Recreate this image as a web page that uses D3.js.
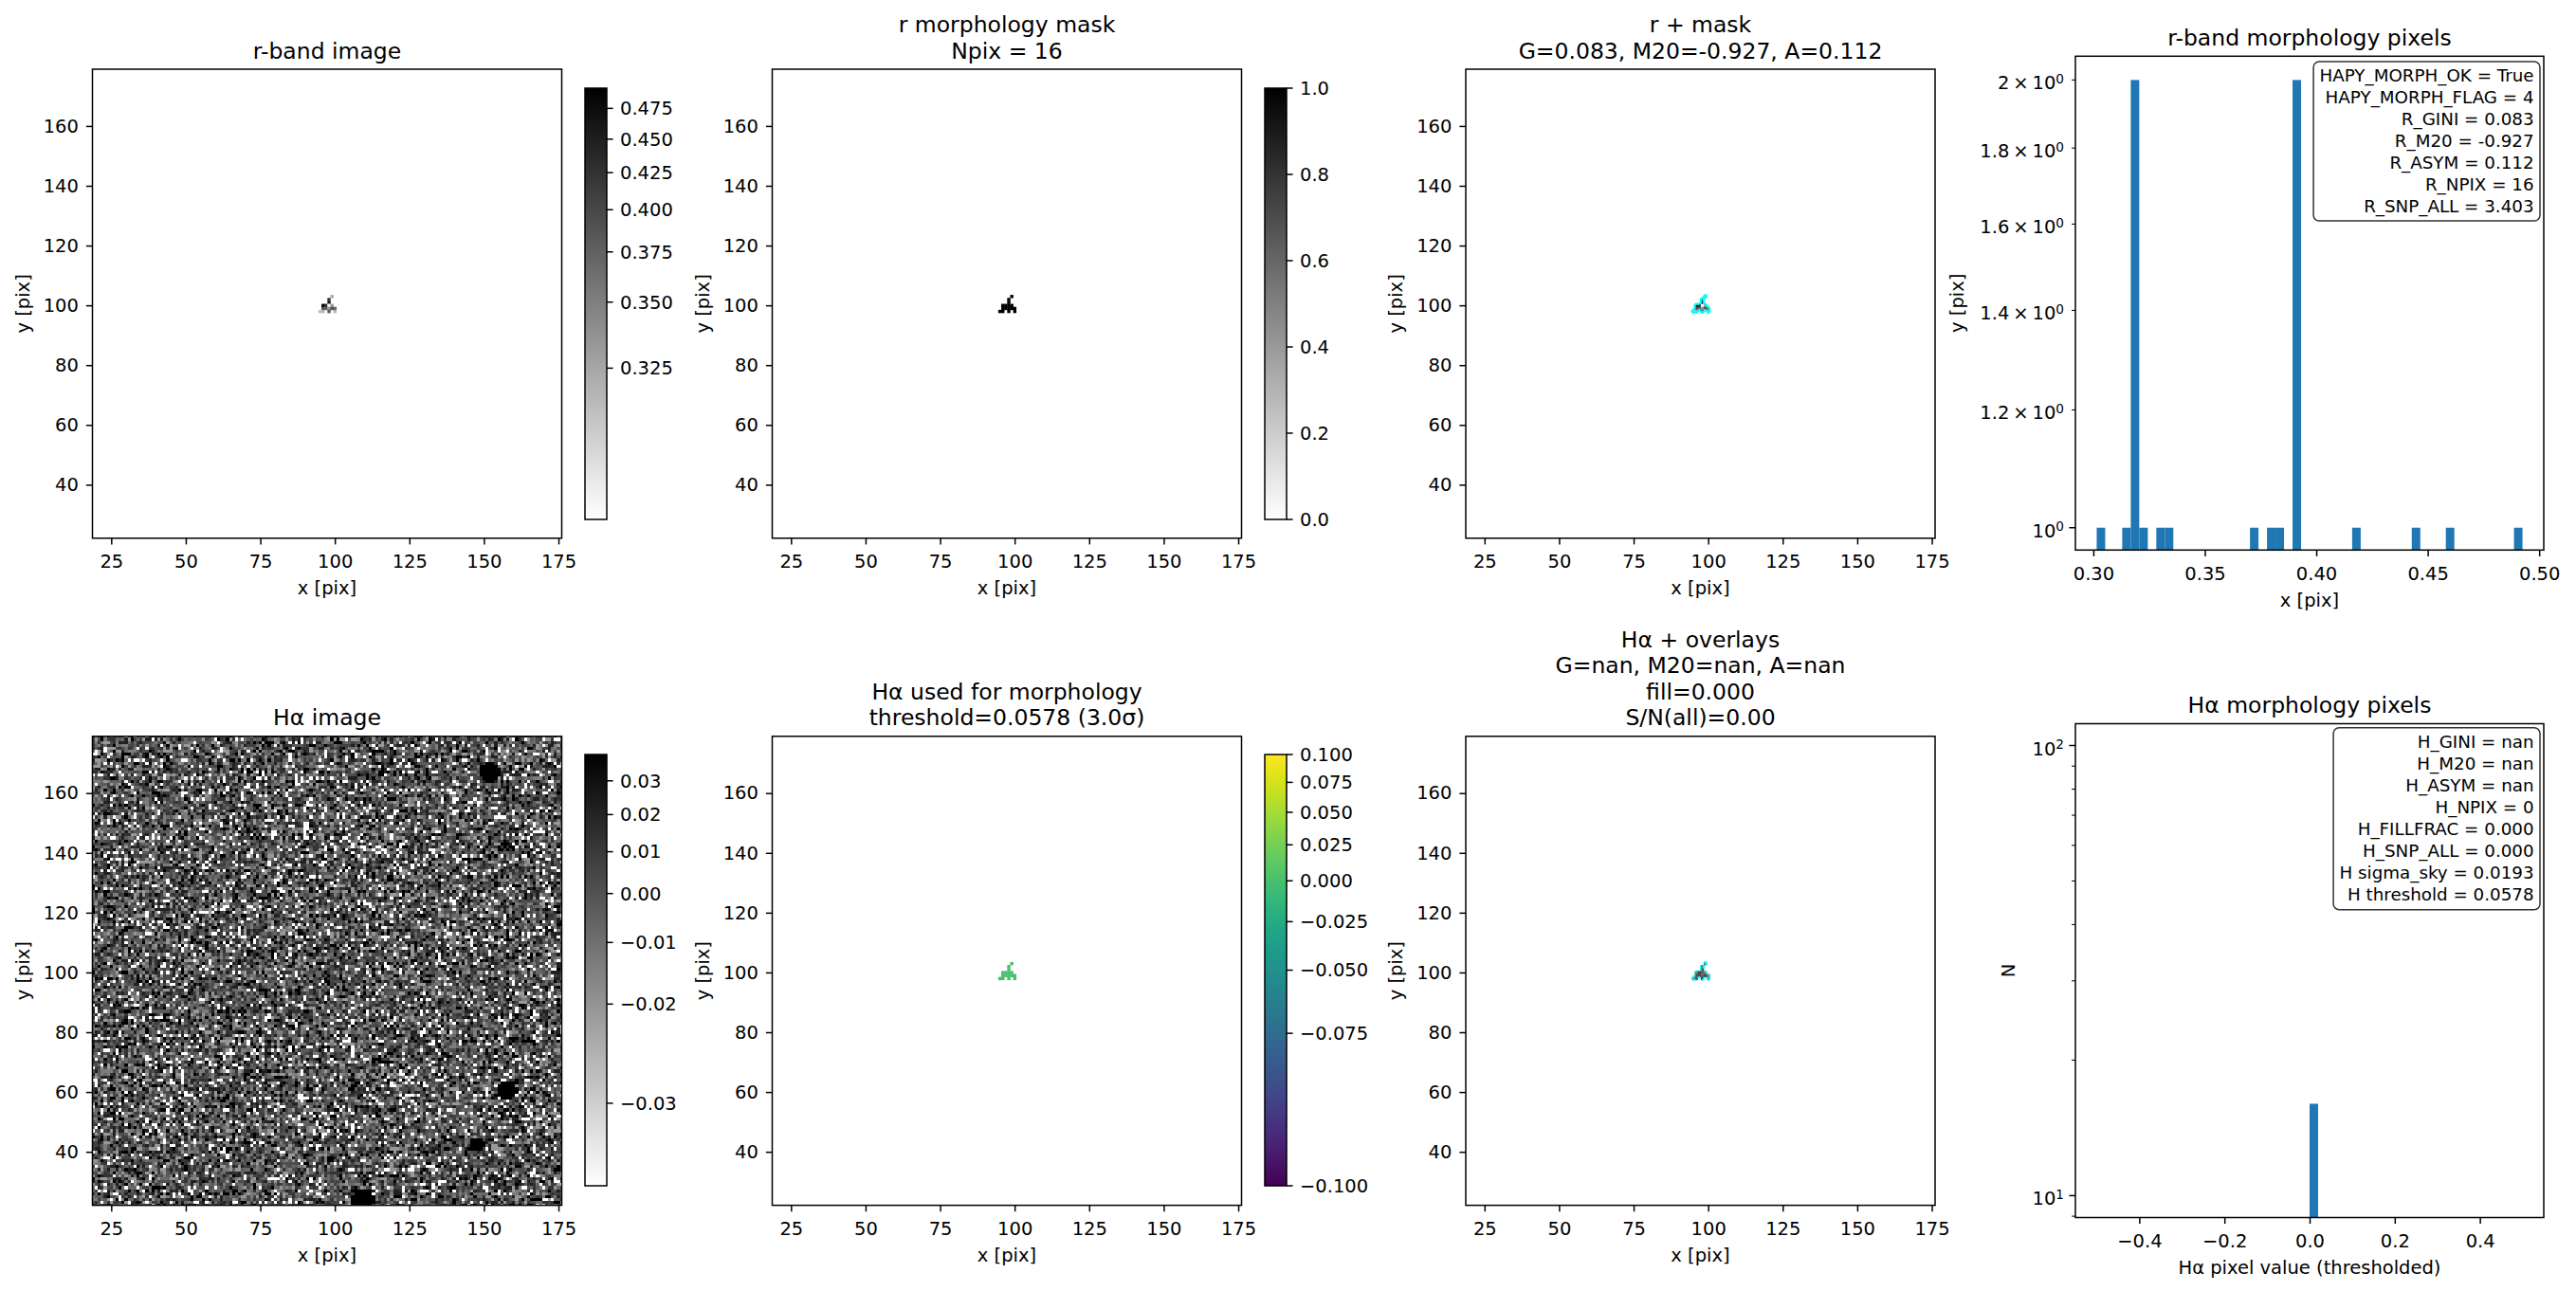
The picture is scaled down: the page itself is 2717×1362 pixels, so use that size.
<!DOCTYPE html>
<html>
<head>
<meta charset="utf-8">
<script src="https://cdn.jsdelivr.net/npm/d3@7/dist/d3.min.js"></script>
<style>
  body { margin: 0; background: #fff; }
  svg text { font-family: "DejaVu Sans", sans-serif; fill: #000; }
</style>
</head>
<body>
<svg id="fig" width="2717" height="1362"></svg>
<script>
// ---------- values ----------
var xExtent = [18.7, 176.1];
var yExtent = [22.1, 179.0];
var imgXTicks = [25, 50, 75, 100, 125, 150, 175];
var imgYTicks = [40, 60, 80, 100, 120, 140, 160];

// the 16 pixels of the r-band morphology mask
var pixX = [99, 98, 98, 96, 97, 98, 99, 96, 97, 98, 99, 100, 95, 96, 98, 100];
var pixY = [103, 102, 101, 100, 100, 100, 100, 99, 99, 99, 99, 99, 98, 98, 98, 98];
var rPix = [0.3220, 0.4180, 0.4600, 0.4925, 0.4430, 0.3015, 0.3300, 0.3910, 0.3800, 0.3340, 0.3915, 0.3720, 0.3140, 0.3180, 0.3840, 0.3185];
var haPix = [0.004, -0.006, 0.002, -0.010, 0.008, -0.004, -0.012, 0.000, 0.006, -0.008, 0.003, -0.014, -0.016, -0.002, 0.010, -0.011];
var haMorphPix = [0, 0, 0, 0, 0, 0, 0, 0, 0, 0, 0, 0, 0, 0, 0, 0];

var rRange = [0.3015, 0.4925];
var rCbTicks = [0.325, 0.350, 0.375, 0.400, 0.425, 0.450, 0.475];
var maskRange = [0, 1];
var maskCbTicks = [0, 0.2, 0.4, 0.6, 0.8, 1.0];
var haRange = [-0.0326, 0.0384];
var haCbTicks = [-0.03, -0.02, -0.01, 0.00, 0.01, 0.02, 0.03];
var morphRange = [-0.1, 0.1];
var morphCbTicks = [-0.100, -0.075, -0.050, -0.025, 0.000, 0.025, 0.050, 0.075, 0.100];

// Hα cut-out: sky noise as grey codes 0-9 (two typed sequences of coprime length,
// added digit by digit so the texture does not repeat), plus levels per code
var haLevels = [-0.0326, -0.021, -0.014, -0.008, -0.003, 0.002, 0.007, 0.013, 0.021, 0.0384];
var haNoiseRows = [
  "8274019935561730228841907635512098847136660391572944718209633358092716094771265428613500977349816025",
  "1596370842993016475820365179944682017538817249063305527194688043159726601385247719950628341477290586",
  "4408153926770194835263318720549916640728357100926381455847209631173085924469207135580649327186644019",
  "9921607453381850726944173062859907251148362905518736024497628119305847760233917548802614590378815263",
  "0656239184475208361997740158622839501774068439125590667381204953178660429855103276941218857032649907",
  "3187749520066415839273098562140781393658827045116290834557719623480091487356225097148833606952174480",
  "7542018867339960274185573901246688150739924416078523399704861250783142669935721048007586194236617391",
  "2039685514072847163390528117649955302468810279341667095385122487019764330156899427405813626950072738",
  "6617408293958235016748830964127702595184432669017853310495768826043197555820374916028891473360154092",
  "9085173629144076952833812507769324086519972043468817590254336601829747195580236641913079855402286317",
  "1472980355027619844316655023879101478362549230789466154820037983624712595086643109287751394068226054",
  "5361027487793345018962207148535609812473664951203487719056632815409988274613525730968012247796348801",
  "0829546117836254901377409826514889303117652940824578630025419773851648209966014357288392670515429736",
  "4790318862052973464180955362071841286395007736214958819043265770283914456628170593391048625583709142",
  "8153672209416088357291164304592278015639927401683356142809957236049117738450662193834570821966475038",
  "3026497751889310462578340117685296630482751960239184457013328896521043769925418607316773092548811659",
  "6948130074255721899036647823106645918307392254186700934882511376058249183396720544861029937167052283",
  "2715849366904286130785529104433718620597448032916673581204976055382417860192533948761108254693170427"
];
var haCols = 158, haRows = 158;
var haFirstX = 19, haFirstY = 179;
// compact sources and a low streak seen in the Hα cut-out
var srcX = [152.0, 157.7, 147.8, 109.5];
var srcY = [167.0, 60.6, 42.6, 24.0];
var srcR = [3.6, 3.4, 2.4, 4.0];
var holeX = [90, 90, 90, 90, 90, 90, 91, 91];
var holeY = [145, 146, 147, 148, 149, 150, 148, 149];

var nBins = 50;
var rHistXTicks = [0.30, 0.35, 0.40, 0.45, 0.50];
var rHistYTicks = [1, 1.2, 1.4, 1.6, 1.8, 2];
var rHistYRange = [0.966, 2.075];
var haHistXTicks = [-0.4, -0.2, 0.0, 0.2, 0.4];
var haHistYMajor = [10, 100];
var haHistYMinor = [9, 20, 30, 40, 50, 60, 70, 80, 90];
var haHistYRange = [8.94, 111.8];

var rBoxLines = ["HAPY_MORPH_OK = True", "HAPY_MORPH_FLAG = 4", "R_GINI = 0.083", "R_M20 = -0.927",
  "R_ASYM = 0.112", "R_NPIX = 16", "R_SNP_ALL = 3.403"];
var hBoxLines = ["H_GINI = nan", "H_M20 = nan", "H_ASYM = nan", "H_NPIX = 0", "H_FILLFRAC = 0.000",
  "H_SNP_ALL = 0.000", "H sigma_sky = 0.0193", "H threshold = 0.0578"];

// ---------- layout ----------
var TICK = 19.5, TITLE = 23.5, BOX = 18.3, FONT = "DejaVu Sans";
var colX = [97.5, 814.5, 1546];
var rowY = [73, 776.8];
var imgW = 495, imgH = 494.8;
var cbX = [617, 1334], cbW = 23, cbTop = [93, 796], cbH = 455;
var histX = 2189, histW = 494, histTop = [59.3, 763.5], histH = 521;

var svg = d3.select("#fig");
var defs = svg.append("defs");
var grayR = d3.interpolateRgb("#ffffff", "#000000");

function styleAxis(sel) {
  sel.attr("font-size", TICK).attr("font-family", FONT);
  sel.select(".domain").remove();
  sel.selectAll(".tick line").attr("stroke", "#000").attr("stroke-width", 1.5);
  sel.selectAll(".tick text").attr("fill", "#000");
}

function title(cx, top, lines) {
  var n = lines.length;
  lines.forEach(function(s, i) {
    svg.append("text").attr("x", cx).attr("y", top - 11.5 - (n - 1 - i) * 27.6)
      .attr("text-anchor", "middle").attr("font-size", TITLE).text(s);
  });
}

function imagePanel(col, row, lines) {
  var x0 = colX[col], y0 = rowY[row];
  var p = { x0: x0, y0: y0, w: imgW, h: imgH };
  p.xs = d3.scaleLinear().domain(xExtent).range([x0, x0 + imgW]);
  p.ys = d3.scaleLinear().domain(yExtent).range([y0 + imgH, y0]);
  var id = "clip" + col + "_" + row;
  defs.append("clipPath").attr("id", id).append("rect")
    .attr("x", x0).attr("y", y0).attr("width", imgW).attr("height", imgH);
  p.plot = svg.append("g").attr("clip-path", "url(#" + id + ")");
  p.lines = lines;
  return p;
}

function finishImage(p) {
  svg.append("g").attr("transform", "translate(0," + (p.y0 + p.h) + ")")
    .call(d3.axisBottom(p.xs).tickValues(imgXTicks).tickFormat(d3.format("d")).tickSize(6.6).tickPadding(11))
    .call(styleAxis);
  svg.append("g").attr("transform", "translate(" + p.x0 + ",0)")
    .call(d3.axisLeft(p.ys).tickValues(imgYTicks).tickFormat(d3.format("d")).tickSize(6.6).tickPadding(8))
    .call(styleAxis);
  svg.append("rect").attr("x", p.x0).attr("y", p.y0).attr("width", p.w).attr("height", p.h)
    .attr("fill", "none").attr("stroke", "#000").attr("stroke-width", 1.5);
  svg.append("text").attr("x", p.x0 + p.w / 2).attr("y", p.y0 + p.h + 59.5)
    .attr("text-anchor", "middle").attr("font-size", TICK).text("x [pix]");
  svg.append("text").attr("transform", "translate(" + (p.x0 - 67) + "," + (p.y0 + p.h / 2) + ") rotate(-90)")
    .attr("text-anchor", "middle").attr("font-size", TICK).text("y [pix]");
  title(p.x0 + p.w / 2, p.y0, p.lines);
}

function drawPixels(p, vals, colorOf) {
  var pw = p.xs(1) - p.xs(0), ph = p.ys(0) - p.ys(1);
  p.plot.selectAll(null).data(vals).enter().append("rect")
    .attr("x", function(d, i) { return p.xs(pixX[i] - 0.5); })
    .attr("y", function(d, i) { return p.ys(pixY[i] + 0.5); })
    .attr("width", pw + 0.3).attr("height", ph + 0.3)
    .attr("fill", colorOf);
}

function colorbar(col, row, colorFn, range, ticks, fmt, sqrtStretch) {
  var x = cbX[col], y = cbTop[row];
  var gid = "grad" + col + "_" + row;
  var grad = defs.append("linearGradient").attr("id", gid)
    .attr("x1", 0).attr("y1", 1).attr("x2", 0).attr("y2", 0);
  d3.range(0, 1.0001, 0.05).forEach(function(t) {
    grad.append("stop").attr("offset", t).attr("stop-color", colorFn(t));
  });
  svg.append("rect").attr("x", x).attr("y", y).attr("width", cbW).attr("height", cbH)
    .attr("fill", "url(#" + gid + ")");
  var norm = d3.scaleLinear().domain(range).clamp(true);
  var pos = (sqrtStretch ? d3.scaleSqrt() : d3.scaleLinear()).domain([0, 1]).range([y + cbH, y]);
  var f = d3.format(fmt);
  ticks.forEach(function(v) {
    var ty = pos(norm(v));
    svg.append("line").attr("x1", x + cbW).attr("x2", x + cbW + 6.6).attr("y1", ty).attr("y2", ty)
      .attr("stroke", "#000").attr("stroke-width", 1.5);
    svg.append("text").attr("x", x + cbW + 14).attr("y", ty).attr("dy", "0.35em")
      .attr("font-size", TICK).text(f(v));
  });
  svg.append("rect").attr("x", x).attr("y", y).attr("width", cbW).attr("height", cbH)
    .attr("fill", "none").attr("stroke", "#000").attr("stroke-width", 1.5);
}

function stretchColor(range, sqrtStretch, cmap) {
  var norm = d3.scaleLinear().domain(range).clamp(true);
  return function(v) { var t = norm(v); return cmap(sqrtStretch ? Math.sqrt(t) : t); };
}

// mask contour (marching squares on a small grid around the source)
var g0x = 92, g0y = 106, gN = 12;
var maskGrid = new Array(gN * gN).fill(0);
pixX.forEach(function(x, i) { maskGrid[(g0y - pixY[i]) * gN + (x - g0x)] = 1; });
var maskContour = d3.contours().size([gN, gN]).thresholds([0.5])(maskGrid)[0];
function contourPath(p) {
  return d3.geoPath(d3.geoTransform({
    point: function(gx, gy) { this.stream.point(p.xs(g0x + gx - 0.5), p.ys(g0y - gy + 0.5)); }
  }))(maskContour);
}

var rColor = stretchColor(rRange, true, grayR);
var maskColor = stretchColor(maskRange, false, grayR);
var haColor = stretchColor(haRange, true, grayR);
var morphColor = stretchColor(morphRange, true, d3.interpolateViridis);

// ---------- row 1 ----------
var p11 = imagePanel(0, 0, ["r-band image"]);
drawPixels(p11, rPix, function(d) { return rColor(d); });
finishImage(p11);
colorbar(0, 0, grayR, rRange, rCbTicks, ".3f", true);

var p21 = imagePanel(1, 0, ["r morphology mask", "Npix = 16"]);
drawPixels(p21, rPix, function() { return maskColor(1); });
finishImage(p21);
colorbar(1, 0, grayR, maskRange, maskCbTicks, ".1f", false);

var p31 = imagePanel(2, 0, ["r + mask", "G=0.083, M20=-0.927, A=0.112"]);
drawPixels(p31, rPix, function(d) { return rColor(d); });
p31.plot.append("path").attr("d", contourPath(p31)).attr("fill", "none")
  .attr("stroke", "#00ffff").attr("stroke-width", 2.2).attr("stroke-linejoin", "round");
finishImage(p31);

// ---------- row 2 ----------
var p12 = imagePanel(0, 1, ["Hα image"]);
(function() {
  var seqA = haNoiseRows.slice(0, 9).join("");
  var seqB = haNoiseRows.slice(9).join("");
  var L = Math.min(seqA.length, seqB.length);
  seqA = seqA.slice(0, L);
  seqB = seqB.slice(0, L - 1);
  var canvas = document.createElement("canvas");
  canvas.width = haCols; canvas.height = haRows;
  var ctx = canvas.getContext("2d");
  var img = ctx.createImageData(haCols, haRows);
  for (var r = 0; r < haRows; r++) {
    for (var c = 0; c < haCols; c++) {
      var x = haFirstX + c, y = haFirstY - r;
      var k = r * haCols + c;
      var code = (+seqA[k % seqA.length] + +seqB[k % seqB.length]) % 10;
      for (var s = 0; s < srcX.length; s++) {
        if ((x - srcX[s]) * (x - srcX[s]) + (y - srcY[s]) * (y - srcY[s]) <= srcR[s] * srcR[s]) code = 9;
      }
      for (var h = 0; h < holeX.length; h++) {
        if (x === holeX[h] && y === holeY[h]) code = 0;
      }
      var col = d3.rgb(haColor(haLevels[code]));
      img.data[k * 4] = col.r; img.data[k * 4 + 1] = col.g; img.data[k * 4 + 2] = col.b; img.data[k * 4 + 3] = 255;
    }
  }
  ctx.putImageData(img, 0, 0);
  p12.plot.append("image")
    .attr("href", canvas.toDataURL())
    .attr("x", p12.xs(haFirstX - 0.5)).attr("y", p12.ys(haFirstY + 0.5))
    .attr("width", p12.xs(haFirstX - 0.5 + haCols) - p12.xs(haFirstX - 0.5))
    .attr("height", p12.ys(haFirstY + 0.5 - haRows) - p12.ys(haFirstY + 0.5))
    .attr("preserveAspectRatio", "none")
    .style("image-rendering", "pixelated");
})();
finishImage(p12);
colorbar(0, 1, grayR, haRange, haCbTicks, ".2f", true);

var p22 = imagePanel(1, 1, ["Hα used for morphology", "threshold=0.0578 (3.0σ)"]);
drawPixels(p22, haMorphPix, function(d) { return morphColor(d); });
finishImage(p22);
colorbar(1, 1, d3.interpolateViridis, morphRange, morphCbTicks, ".3f", true);

var p32 = imagePanel(2, 1, ["Hα + overlays", "G=nan, M20=nan, A=nan", "fill=0.000", "S/N(all)=0.00"]);
drawPixels(p32, haPix, function(d) { return haColor(d); });
p32.plot.append("path").attr("d", contourPath(p32)).attr("fill", "none")
  .attr("stroke", "#00ffff").attr("stroke-width", 1.8).attr("stroke-dasharray", "4,2.5");
finishImage(p32);

// ---------- histograms ----------
function histFrame(row) {
  var top = histTop[row];
  var id = "hclip" + row;
  defs.append("clipPath").attr("id", id).append("rect")
    .attr("x", histX).attr("y", top).attr("width", histW).attr("height", histH);
  return { top: top, bottom: top + histH, plot: svg.append("g").attr("clip-path", "url(#" + id + ")") };
}

function textBox(lines, top, firstDy) {
  var right = histX + histW - 10.4;
  var g = svg.append("g");
  var t = g.append("text").attr("font-size", BOX).attr("text-anchor", "end");
  lines.forEach(function(s, i) {
    t.append("tspan").attr("x", right).attr("y", top + firstDy + i * 23.05).text(s);
  });
  var bb = t.node().getBBox();
  var lastBase = top + firstDy + (lines.length - 1) * 23.05;
  g.insert("rect", "text").attr("x", bb.x - 6.4).attr("y", top)
    .attr("width", bb.width + 12.8).attr("height", lastBase + 9.2 - top)
    .attr("rx", 6).attr("ry", 6)
    .attr("fill", "#fff").attr("fill-opacity", 0.8)
    .attr("stroke", "#333").attr("stroke-width", 1.5);
}

function supLabel(x, y, mant, exp) {
  var t = svg.append("text").attr("x", x).attr("y", y).attr("text-anchor", "end").attr("font-size", TICK);
  t.append("tspan").text(mant === null ? "10" : mant + "\u2009×\u200910");
  t.append("tspan").attr("dy", "-0.48em").attr("font-size", TICK * 0.7).text(exp);
}

function hLine(x1, x2, y, w) {
  svg.append("line").attr("x1", x1).attr("x2", x2).attr("y1", y).attr("y2", y)
    .attr("stroke", "#000").attr("stroke-width", w);
}

// r-band morphology pixels
(function() {
  var f = histFrame(0);
  var ext = d3.extent(rPix);
  var m = 0.05 * (ext[1] - ext[0]);
  var xs = d3.scaleLinear().domain([ext[0] - m, ext[1] + m]).range([histX, histX + histW]);
  var ys = d3.scaleLog().domain(rHistYRange).range([f.bottom, f.top]);
  var bins = d3.bin().domain(ext)
    .thresholds(d3.range(1, nBins).map(function(i) { return ext[0] + i * (ext[1] - ext[0]) / nBins; }))(rPix);
  f.plot.selectAll(null).data(bins.filter(function(b) { return b.length > 0; })).enter().append("rect")
    .attr("x", function(b) { return xs(b.x0); })
    .attr("width", function(b) { return xs(b.x1) - xs(b.x0); })
    .attr("y", function(b) { return ys(b.length); })
    .attr("height", function(b) { return f.bottom - ys(b.length); })
    .attr("fill", "#1f77b4");
  svg.append("g").attr("transform", "translate(0," + f.bottom + ")")
    .call(d3.axisBottom(xs).tickValues(rHistXTicks).tickFormat(d3.format(".2f")).tickSize(6.6).tickPadding(11))
    .call(styleAxis);
  rHistYTicks.forEach(function(v) {
    var ty = ys(v);
    hLine(histX - (v === 1 ? 6.6 : 3.8), histX, ty, v === 1 ? 1.5 : 1.1);
    supLabel(histX - 12, ty + 10, v === 1 ? null : (v === 2 ? "2" : v.toFixed(1)), "0");
  });
  svg.append("rect").attr("x", histX).attr("y", f.top).attr("width", histW).attr("height", histH)
    .attr("fill", "none").attr("stroke", "#000").attr("stroke-width", 1.5);
  svg.append("text").attr("x", histX + histW / 2).attr("y", f.bottom + 59.5)
    .attr("text-anchor", "middle").attr("font-size", TICK).text("x [pix]");
  svg.append("text").attr("transform", "translate(" + (histX - 118) + "," + (f.top + histH / 2) + ") rotate(-90)")
    .attr("text-anchor", "middle").attr("font-size", TICK).text("y [pix]");
  title(histX + histW / 2, f.top, ["r-band morphology pixels"]);
  textBox(rBoxLines, 65, 20.5);
})();

// Hα morphology pixels
(function() {
  var f = histFrame(1);
  var v0 = haMorphPix[0];
  var binExt = [v0 - 0.5, v0 + 0.5];
  var xs = d3.scaleLinear().domain([binExt[0] - 0.05, binExt[1] + 0.05]).range([histX, histX + histW]);
  var ys = d3.scaleLog().domain(haHistYRange).range([f.bottom, f.top]);
  var bins = d3.bin().domain(binExt)
    .thresholds(d3.range(1, nBins).map(function(i) { return v0 + (i - nBins / 2) / nBins; }))(haMorphPix);
  f.plot.selectAll(null).data(bins.filter(function(b) { return b.length > 0; })).enter().append("rect")
    .attr("x", function(b) { return xs(b.x0); })
    .attr("width", function(b) { return xs(b.x1) - xs(b.x0); })
    .attr("y", function(b) { return ys(b.length); })
    .attr("height", function(b) { return f.bottom - ys(b.length); })
    .attr("fill", "#1f77b4");
  svg.append("g").attr("transform", "translate(0," + f.bottom + ")")
    .call(d3.axisBottom(xs).tickValues(haHistXTicks).tickFormat(d3.format(".1f")).tickSize(6.6).tickPadding(11))
    .call(styleAxis);
  haHistYMinor.forEach(function(v) { hLine(histX - 3.8, histX, ys(v), 1.1); });
  haHistYMajor.forEach(function(v) {
    var ty = ys(v);
    hLine(histX - 6.6, histX, ty, 1.5);
    supLabel(histX - 12, ty + 10, null, String(Math.round(Math.log10(v))));
  });
  svg.append("rect").attr("x", histX).attr("y", f.top).attr("width", histW).attr("height", histH)
    .attr("fill", "none").attr("stroke", "#000").attr("stroke-width", 1.5);
  svg.append("text").attr("x", histX + histW / 2).attr("y", f.bottom + 59.5)
    .attr("text-anchor", "middle").attr("font-size", TICK).text("Hα pixel value (thresholded)");
  svg.append("text").attr("transform", "translate(" + (histX - 64) + "," + (f.top + histH / 2) + ") rotate(-90)")
    .attr("text-anchor", "middle").attr("font-size", TICK).text("N");
  title(histX + histW / 2, f.top, ["Hα morphology pixels"]);
  textBox(hBoxLines, 767.8, 21.3);
})();
</script>
</body>
</html>
